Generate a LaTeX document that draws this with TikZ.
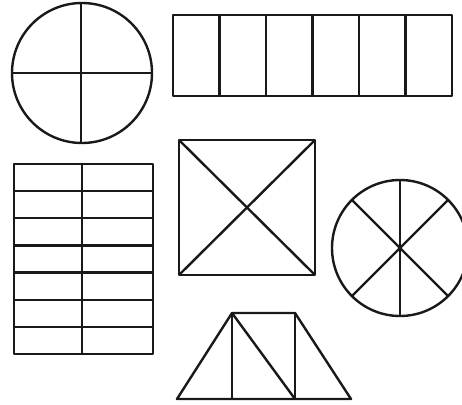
\documentclass[tikz,border=0pt]{standalone}
\begin{document}
\begin{tikzpicture}[x=1pt,y=-1pt,line width=2.4pt,line join=round,
  figline/.style={draw=black!90}]
\useasboundingbox (0,0) rectangle (462,404);
\clip (0,0) rectangle (462,404);
% circle with 4 parts
\coordinate (c1) at (82,73);
\draw[figline] (c1) circle[radius=70];
\draw[figline] (12,73) -- (152,73);
\draw[figline] (81,3) -- (81,143);
% long rectangle 6 parts
\draw[figline] (173,15) rectangle (452,96);
\foreach \i in {1,...,5} {\draw[figline] ({173+46.5*\i},15) -- ({173+46.5*\i},96);}
% grid 2x7
\draw[figline] (14,164) rectangle (153,354);
\draw[figline] (82,164) -- (82,354);
\foreach \i in {1,...,6} {\draw[figline] (14,{164+190/7*\i}) -- (153,{164+190/7*\i});}
% square with diagonals
\draw[figline] (179,140) rectangle (315,275);
\draw[figline] (179,140) -- (315,275);
\draw[figline] (315,140) -- (179,275);
% circle with 6 parts
\coordinate (c2) at (400,248);
\draw[figline] (c2) circle[radius=68];
\draw[figline] (400,180) -- (400,316);
\draw[figline] (c2) -- ++(45:68) (c2) -- ++(135:68) (c2) -- ++(-45:68) (c2) -- ++(-135:68);
% trapezoid
\draw[figline] (177,399) -- (232,313) -- (295,313) -- (351,399) -- cycle;
\draw[figline] (232,313) -- (232,399);
\draw[figline] (295,313) -- (295,399);
\draw[figline] (232,313) -- (295,399);
\end{tikzpicture}
\end{document}
